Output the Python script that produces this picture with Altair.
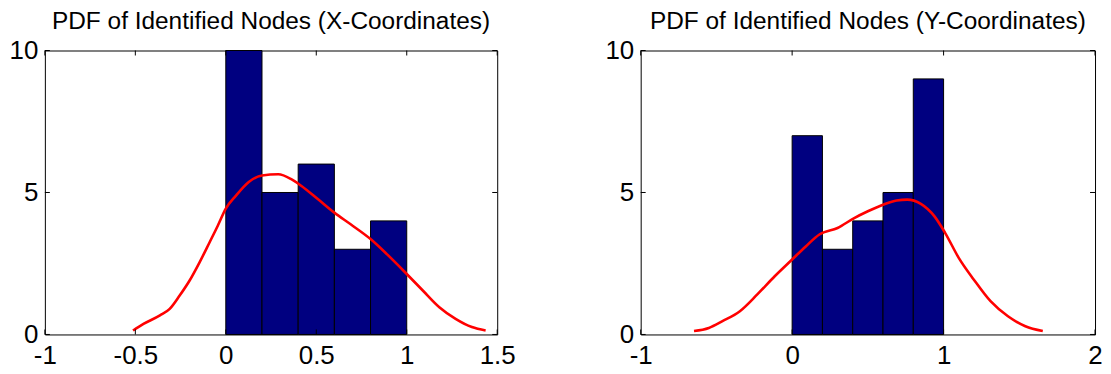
import altair as alt
import pandas as pd

# ---- data ----
bin_edges = [0.0, 0.2, 0.4, 0.6, 0.8, 1.0]
x_counts = [10, 5, 6, 3, 4]
y_counts = [7, 3, 4, 5, 9]

x_pdf_x = [-0.513, -0.455, -0.364, -0.31, -0.255, -0.2, -0.145, -0.09, -0.045, 0.0,
           0.055, 0.127, 0.2, 0.29, 0.364, 0.418, 0.51, 0.6, 0.69, 0.8, 0.89, 1.0,
           1.09, 1.18, 1.27, 1.36, 1.436]
x_pdf_y = [0.14, 0.37, 0.67, 0.9, 1.37, 1.9, 2.54, 3.24, 3.82, 4.43,
           4.88, 5.37, 5.6, 5.64, 5.46, 5.23, 4.76, 4.29, 3.88, 3.36, 2.83, 2.13,
           1.54, 0.96, 0.55, 0.26, 0.14]

y_pdf_x = [-0.648, -0.55, -0.46, -0.345, -0.23, -0.115, 0.0, 0.09, 0.18, 0.3, 0.41,
           0.5, 0.6, 0.69, 0.76, 0.85, 0.94, 1.01, 1.1, 1.2, 1.31, 1.425, 1.54, 1.655]
y_pdf_y = [0.12, 0.23, 0.47, 0.82, 1.41, 2.05, 2.64, 3.1, 3.52, 3.75, 4.1,
           4.34, 4.57, 4.72, 4.75, 4.6, 4.16, 3.58, 2.7, 1.93, 1.17, 0.64, 0.29, 0.12]

x_ticks_left = [-1, -0.5, 0, 0.5, 1, 1.5]
x_ticks_right = [-1, 0, 1, 2]
y_ticks = [0, 5, 10]

titles = ["PDF of Identified Nodes (X-Coordinates)", "PDF of Identified Nodes (Y-Coordinates)"]

FONT = "Liberation Sans"
H = 285
TL = 5


def panel(counts, px, py, xticks, xdomain, title, W):
    bars = pd.DataFrame({"x0": bin_edges[:-1], "x1": bin_edges[1:], "count": counts})
    pdf = pd.DataFrame({"px": px, "py": py})
    xt = pd.DataFrame({"xt": xticks})
    yt = pd.DataFrame({"yt": y_ticks})

    xs = alt.Scale(domain=xdomain, nice=False, zero=False)
    ys = alt.Scale(domain=[0, 10], nice=False)
    xa = alt.Axis(values=xticks, title=None, labelFlush=False, labelOverlap=False,
                  labelExpr="datum.value + ''")
    ya = alt.Axis(values=y_ticks, title=None, labelFlush=False, labelOverlap=False,
                  labelExpr="datum.value + ''")

    b = alt.Chart(bars).mark_rect(color="#000080", stroke="black", strokeWidth=1).encode(
        x=alt.X("x0:Q", scale=xs, axis=xa),
        x2="x1:Q",
        y=alt.Y("count:Q", scale=ys, axis=ya),
        y2=alt.datum(0),
    )
    line = alt.Chart(pdf).mark_line(color="#FF0000", strokeWidth=2.6, interpolate="monotone").encode(
        x=alt.X("px:Q", scale=xs, axis=xa),
        y=alt.Y("py:Q", scale=ys, axis=ya),
    )
    tb = alt.Chart(xt).mark_rule(color="black", strokeWidth=1).encode(
        x=alt.X("xt:Q", scale=xs, axis=xa), y=alt.value(H), y2=alt.value(H - TL))
    tt = alt.Chart(xt).mark_rule(color="black", strokeWidth=1).encode(
        x=alt.X("xt:Q", scale=xs, axis=xa), y=alt.value(0), y2=alt.value(TL))
    tlft = alt.Chart(yt).mark_rule(color="black", strokeWidth=1).encode(
        y=alt.Y("yt:Q", scale=ys, axis=ya), x=alt.value(0), x2=alt.value(TL))
    trt = alt.Chart(yt).mark_rule(color="black", strokeWidth=1).encode(
        y=alt.Y("yt:Q", scale=ys, axis=ya), x=alt.value(W), x2=alt.value(W - TL))

    return alt.layer(b, line, tb, tt, tlft, trt).properties(
        width=W, height=H,
        title=alt.TitleParams(title, font=FONT, fontSize=24.5, fontWeight="normal",
                              color="black", anchor="middle", offset=3),
    )


left = panel(x_counts, x_pdf_x, x_pdf_y, x_ticks_left, [-1, 1.5], titles[0], 454)
right = panel(y_counts, y_pdf_x, y_pdf_y, x_ticks_right, [-1, 2], titles[1], 456)

chart = alt.hconcat(left, right, spacing=144, bounds="flush").properties(
    padding={"left": 0, "top": 0, "right": 0, "bottom": 0},
).configure_view(stroke="black", strokeWidth=1).configure_axis(
    labelFont=FONT, labelFontSize=26, labelColor="black", ticks=False, domain=False,
    grid=False, labelPadding=7,
).configure_axisX(labelPadding=8)

chart.save("out.html", embed_options={"renderer": "svg", "actions": False})
